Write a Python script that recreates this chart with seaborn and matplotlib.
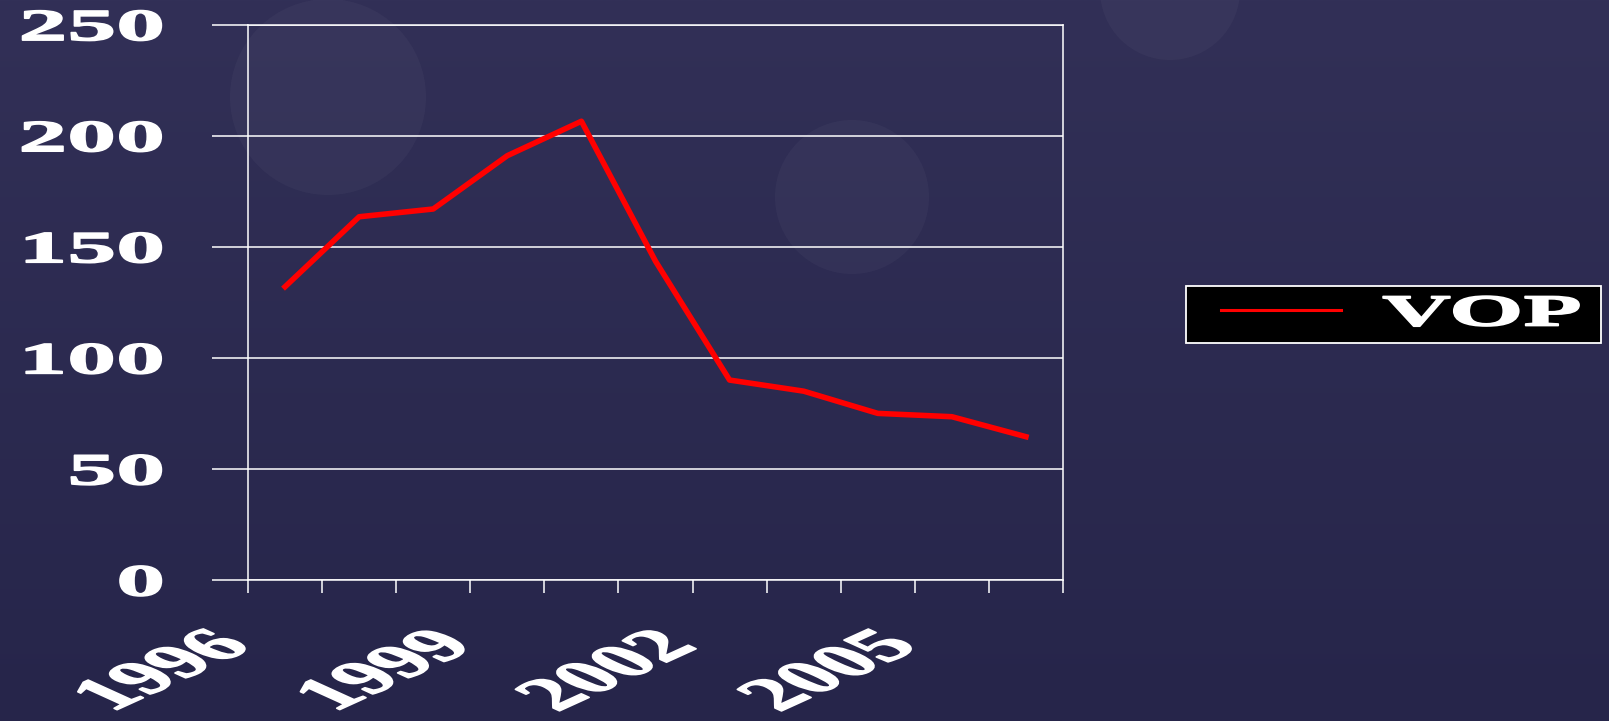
import numpy as np
import pandas as pd
import matplotlib
matplotlib.use("Agg")
import matplotlib.pyplot as plt
import matplotlib.patheffects as pe
from matplotlib.transforms import Affine2D, ScaledTranslation
from matplotlib.patches import Ellipse
from matplotlib.legend_handler import HandlerLine2D
import seaborn as sns

# ---- data ----
years = [1996, 1997, 1998, 1999, 2000, 2001, 2002, 2003, 2004, 2005, 2006]
vop = [132, 163.5, 167, 191, 206.5, 143.5, 90, 85, 75, 73.5, 64.5]
series_name = "VOP"
y_ticks = [0, 50, 100, 150, 200, 250]
x_label_years = [1996, 1999, 2002, 2005]

plt.rcParams['font.family'] = ['Liberation Serif', 'DejaVu Serif']
plt.rcParams['font.weight'] = 'bold'


class Stretch(pe.AbstractPathEffect):
    """Horizontally stretch text in display space around an anchor, with slight emboldening."""
    def __init__(self, sx, anchor='center', bold=1.2):
        super().__init__()
        self.sx = sx
        self.anchor = anchor
        self.bold = bold

    def draw_path(self, renderer, gc, tpath, affine, rgbFace=None):
        v = tpath.vertices
        if len(v):
            xmin, xmax = v[:, 0].min(), v[:, 0].max()
        else:
            xmin = xmax = 0.0
        a = {'left': xmin, 'center': 0.5 * (xmin + xmax), 'right': xmax}[self.anchor]
        qx, qy = affine.transform((a, 0.0))
        st = Affine2D().translate(-qx, -qy).scale(self.sx, 1.0).translate(qx, qy)
        gc0 = renderer.new_gc()
        gc0.copy_properties(gc)
        gc0.set_linewidth(self.bold)
        if rgbFace is not None:
            gc0.set_foreground(rgbFace)
        renderer.draw_path(gc0, tpath, affine + st, rgbFace)
        gc0.restore()


W, H = 1609, 721
fig = plt.figure(figsize=(W / 100, H / 100), dpi=100)

# background
bg = fig.add_axes([0, 0, 1, 1], zorder=-10)
top = np.array([0x32, 0x30, 0x57]) / 255
bot = np.array([0x26, 0x25, 0x4a]) / 255
t = np.linspace(0, 1, 256)[:, None, None]
grad = top * (1 - t) + bot * t
grad = np.repeat(grad, 2, axis=1)
bg.imshow(grad, aspect='auto', extent=[0, W, H, 0])
for (cx, cy, r) in [(328, 97, 98), (852, 197, 77), (1170, -10, 70)]:
    bg.add_patch(Ellipse((cx, cy), 2 * r, 2 * r, color='white', alpha=0.03, lw=0))
bg.set_xlim(0, W)
bg.set_ylim(H, 0)
bg.axis('off')

ax = fig.add_axes([248 / W, 1 - 580 / H, (1063 - 248) / W, (580 - 24.6) / H])
ax.set_facecolor('none')

df = pd.DataFrame({'year': years, 'value': vop})
sns.lineplot(data=df, x='year', y='value', ax=ax, color='#ff0000', lw=4.0,
             label=series_name, legend=False, zorder=5)

ax.set_xlim(1995.5, 2006.5)
ax.set_ylim(0, 250)
ax.set_xlabel('')
ax.set_ylabel('')

# grid & spines
ax.set_yticks(y_ticks)
ax.yaxis.grid(True, color='white', lw=1.1)
ax.xaxis.grid(False)
ax.set_axisbelow(True)
for s in ax.spines.values():
    s.set_color('white')
    s.set_linewidth(1.1)

ax.tick_params(axis='y', colors='white', length=26, width=1.1, pad=35,
               labelsize=32, direction='out')
for lab in ax.get_yticklabels():
    lab.set_fontweight('bold')
    lab.set_path_effects([Stretch(2.2, 'right')])

# x ticks at category boundaries, labels at selected categories
ax.set_xticks(np.arange(1995.5, 2007.0, 1.0))
ax.tick_params(axis='x', which='major', colors='white', length=9, width=1.1,
               labelbottom=False, direction='out')
ax.set_xticks(x_label_years, labels=[str(y) for y in x_label_years], minor=True)
ax.tick_params(axis='x', which='minor', length=0, pad=43, labelsize=33,
               labelcolor='white')
off = ScaledTranslation(-0.40, 0, fig.dpi_scale_trans)
for lab in ax.get_xticklabels(minor=True):
    lab.set_fontweight('bold')
    lab.set_rotation(45)
    lab.set_ha('right')
    lab.set_va('center')
    lab.set_rotation_mode('anchor')
    lab.set_transform(lab.get_transform() + off)
    lab.set_path_effects([Stretch(2.2, 'right')])

# legend
line = ax.get_lines()[0]
leg = fig.legend([line], [series_name], loc='center', mode='expand',
                 bbox_to_anchor=(1186 / W, 1 - 345 / H, (1601 - 1186) / W, 61 / H),
                 bbox_transform=fig.transFigure, borderaxespad=0,
                 prop={'family': 'Liberation Serif', 'weight': 'bold', 'size': 32},
                 handlelength=3.28, handletextpad=0.93, borderpad=0.2,
                 fancybox=False, framealpha=1, facecolor='black', edgecolor='white',
                 handler_map={line: HandlerLine2D(xpad=0.595)})
leg.get_frame().set_linewidth(1.3)
for l in leg.get_lines():
    l.set_linewidth(2.2)
for txt in leg.get_texts():
    txt.set_color('white')
    txt.set_path_effects([Stretch(2.15, 'left')])

fig.savefig('out.png', dpi=100, facecolor=fig.get_facecolor())
